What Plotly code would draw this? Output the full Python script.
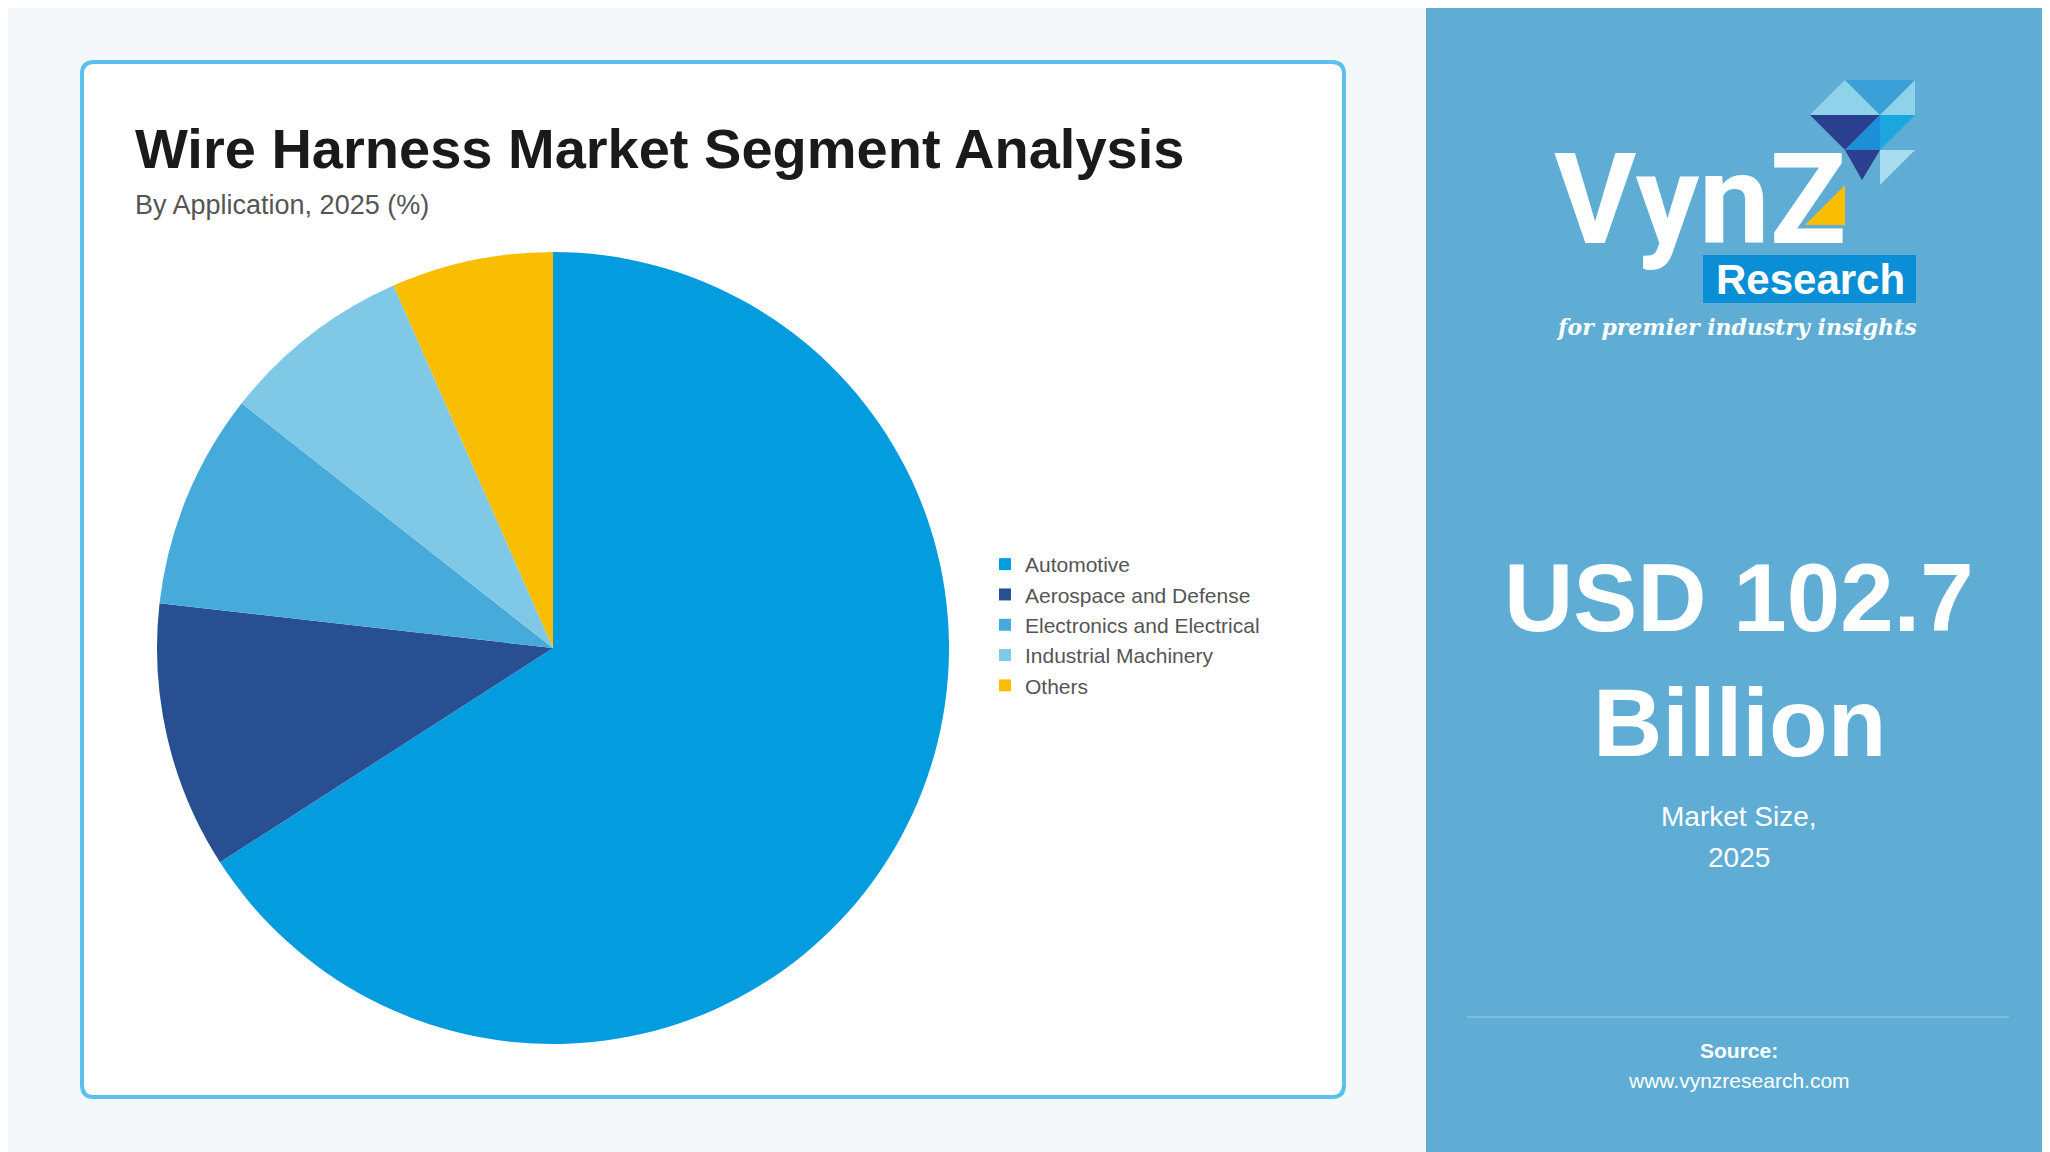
import plotly.graph_objects as go

W, H = 2050, 1152
labels = ["Automotive", "Aerospace and Defense", "Electronics and Electrical", "Industrial Machinery", "Others"]
values = [65.9, 10.9, 8.8, 7.8, 6.6]
colors = ["#039ddf", "#284f92", "#46aadb", "#7fc9e6", "#f9bd02"]

OFF = 8  # browser body margin compensation
def px(x): return (x - OFF) / W
def py(y): return 1 - (y - OFF) / H

fig = go.Figure(go.Pie(
    labels=labels, values=values, sort=False, direction="clockwise", rotation=0,
    marker=dict(colors=colors, line=dict(width=0)), textinfo="none", hoverinfo="label+percent",
    domain=dict(x=[px(157), px(949)], y=[py(1044), py(252)])))

shapes = []
shapes.append(dict(type="rect", xref="paper", yref="paper", x0=-0.01, x1=px(1426), y0=-0.01, y1=1.01, fillcolor="#f5f8fb", line_width=0, layer="below"))
shapes.append(dict(type="rect", xref="paper", yref="paper", x0=px(1426), x1=1.01, y0=-0.01, y1=1.01, fillcolor="#5fadd4", line_width=0, layer="below"))
def rr(x0, y0, x1, y1, r):
    return f"M {px(x0+r)},{py(y0)} L {px(x1-r)},{py(y0)} Q {px(x1)},{py(y0)} {px(x1)},{py(y0+r)} " \
           f"L {px(x1)},{py(y1-r)} Q {px(x1)},{py(y1)} {px(x1-r)},{py(y1)} L {px(x0+r)},{py(y1)} " \
           f"Q {px(x0)},{py(y1)} {px(x0)},{py(y1-r)} L {px(x0)},{py(y0+r)} Q {px(x0)},{py(y0)} {px(x0+r)},{py(y0)} Z"
shapes.append(dict(type="path", xref="paper", yref="paper", path=rr(82, 62, 1344, 1097, 12), fillcolor="white", line=dict(color="#5bc0eb", width=4), layer="below"))
shapes.append(dict(type="line", xref="paper", yref="paper", x0=px(1467), x1=px(2009), y0=py(1017), y1=py(1017), line=dict(color="#86c2e0", width=1.5)))
shapes.append(dict(type="rect", xref="paper", yref="paper", x0=px(1703), x1=px(1916), y0=py(303), y1=py(255), fillcolor="#0a8fd6", line_width=0))
def tri(pts, c):
    p = "M " + " L ".join(f"{px(a)},{py(b)}" for a, b in pts) + " Z"
    return dict(type="path", xref="paper", yref="paper", path=p, fillcolor=c, line_width=0)
shapes += [
    tri([(1810, 115), (1845, 80), (1880, 115)], "#8fd3ea"),
    tri([(1845, 80), (1880, 115), (1915, 80)], "#3aa0d8"),
    tri([(1880, 115), (1915, 80), (1915, 115)], "#8fd3ea"),
    tri([(1810, 115), (1845, 150), (1880, 115)], "#2b3f8f"),
    tri([(1845, 150), (1880, 115), (1880, 150)], "#1d8fd6"),
    tri([(1880, 115), (1915, 115), (1880, 150)], "#1aa7e0"),
    tri([(1845, 150), (1880, 150), (1862, 180)], "#2b3f8f"),
    tri([(1880, 150), (1915, 150), (1880, 185)], "#a8dcef"),
    tri([(1845, 185), (1845, 225), (1805, 225)], "#f9bd02"),
]

ann = []
def t(x, y, s, size, color="white", bold=False, xa="center", family="Liberation Sans, Arial, sans-serif", italic=False):
    if bold: s = f"<b>{s}</b>"
    if italic: s = f"<i>{s}</i>"
    ann.append(dict(x=px(x), y=py(y), xref="paper", yref="paper", text=s, showarrow=False, xanchor=xa, yanchor="middle",
                    font=dict(size=size, color=color, family=family)))
t(133, 148, "Wire Harness Market Segment Analysis", 56, "#1a1a1a", True, "left")
t(133, 205, "By Application, 2025 (%)", 27, "#555555", False, "left")
t(1739, 597, "USD 102.7", 96, bold=True)
t(1739, 722, "Billion", 96, bold=True)
t(1739, 816, "Market Size,", 28)
t(1739, 857, "2025", 28)
t(1739, 1050, "Source:", 21, bold=True)
t(1739, 1080, "www.vynzresearch.com", 21)
t(1700, 200, "VynZ", 126, bold=True, family="Roboto, Arial, sans-serif")
t(1810, 279, "Research", 42, bold=True)
t(1736, 327, "for premier industry insights", 22, bold=True, italic=True, family="DejaVu Serif, serif")

fig.update_layout(width=W, height=H, margin=dict(l=0, r=0, t=0, b=0), paper_bgcolor="#f5f8fb",
                  shapes=shapes, annotations=ann, showlegend=True,
                  legend=dict(x=px(985), y=py(625), xanchor="left", yanchor="middle", font=dict(size=21, color="#555555", family="Liberation Sans, Arial, sans-serif"),
                              bgcolor="rgba(0,0,0,0)", itemwidth=30, tracegroupgap=0))
fig.write_html("out.html")
